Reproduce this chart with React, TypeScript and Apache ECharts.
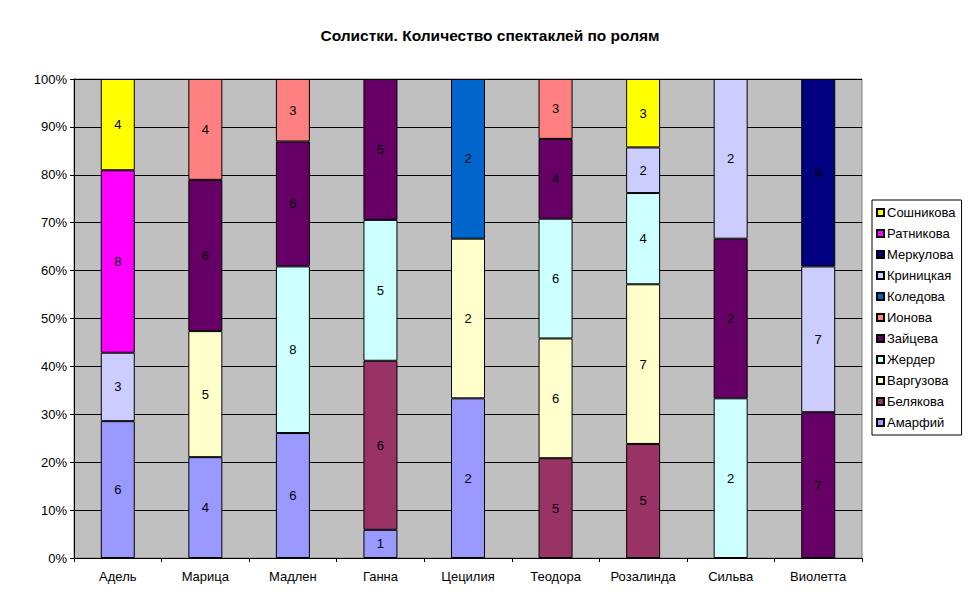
import React, { useEffect, useRef } from "react";
import * as echarts from "echarts";

const categories = ["Адель", "Марица", "Мадлен", "Ганна", "Цецилия", "Теодора", "Розалинда", "Сильва", "Виолетта"];

// raw counts per singer (series) per role (category); 0 = none
const amarfiy =   [6, 4, 6, 1, 2, 0, 0, 0, 0];
const belyakova = [0, 0, 0, 6, 0, 5, 5, 0, 0];
const varguzova = [0, 5, 0, 0, 2, 6, 7, 0, 0];
const zherder =   [0, 0, 8, 5, 0, 6, 4, 2, 0];
const zaytseva =  [0, 6, 6, 5, 0, 4, 0, 2, 7];
const ionova =    [0, 4, 3, 0, 0, 3, 0, 0, 0];
const koledova =  [0, 0, 0, 0, 2, 0, 0, 0, 0];
const krinitskaya=[3, 0, 0, 0, 0, 0, 2, 2, 7];
const merkulova = [0, 0, 0, 0, 0, 0, 0, 0, 9];
const ratnikova = [8, 0, 0, 0, 0, 0, 0, 0, 0];
const soshnikova= [4, 0, 0, 0, 0, 0, 3, 0, 0];

const seriesNames = ["Амарфий", "Белякова", "Варгузова", "Жердер", "Зайцева", "Ионова", "Коледова", "Криницкая", "Меркулова", "Ратникова", "Сошникова"];
const seriesValues = [amarfiy, belyakova, varguzova, zherder, zaytseva, ionova, koledova, krinitskaya, merkulova, ratnikova, soshnikova];
const seriesColors = ["#9999FF", "#993366", "#FFFFCC", "#CCFFFF", "#660066", "#FF8080", "#0066CC", "#CCCCFF", "#000080", "#FF00FF", "#FFFF00"];

const yTicks = [0, 10, 20, 30, 40, 50, 60, 70, 80, 90, 100];

export default function App() {
  const ref = useRef<HTMLDivElement>(null);
  useEffect(() => {
    if (!ref.current) return;
    const chart = echarts.init(ref.current, null, { renderer: "svg" });
    const totals = categories.map((_, i) => seriesValues.reduce((s, arr) => s + arr[i], 0));
    const font = "Arial, 'Liberation Sans', sans-serif";
    const series = seriesNames.map((name, si) => ({
      name,
      type: "bar",
      stack: "all",
      barWidth: 34,
      data: seriesValues[si].map((v, i) => (v > 0 ? { value: (v / totals[i]) * 100, raw: v } : null)),
      itemStyle: { color: seriesColors[si], borderColor: "#000", borderWidth: 1 },
      label: {
        show: true,
        position: "inside",
        color: "#000",
        fontFamily: font,
        fontSize: 13,
        formatter: (p: any) => String(p.data && p.data.raw != null ? p.data.raw : ""),
      },
      emphasis: { disabled: true },
    }));
    chart.setOption({
      animation: false,
      backgroundColor: "#fff",
      title: {
        text: "Солистки. Количество спектаклей по ролям",
        left: 485,
        textAlign: "center",
        top: 22,
        textStyle: { fontFamily: font, fontSize: 15.5, fontWeight: "bold", color: "#000" },
      },
      grid: {
        left: 74,
        top: 79,
        width: 788,
        height: 479,
        show: true,
        backgroundColor: "#C0C0C0",
        borderColor: "#808080",
        borderWidth: 1,
        containLabel: false,
      },
      legend: {
        orient: "vertical",
        left: 872,
        top: 200,
        data: [...seriesNames].reverse(),
        icon: "rect",
        itemWidth: 7,
        itemHeight: 7,
        itemGap: 8,
        padding: [6, 6, 6, 4],
        backgroundColor: "#fff",
        borderColor: "#000",
        borderWidth: 1,
        borderRadius: 0,
        textStyle: { fontFamily: font, fontSize: 13, lineHeight: 13, color: "#000", padding: [0, 0, 0, -2] },
        selectedMode: false,
      },
      xAxis: {
        type: "category",
        data: categories,
        boundaryGap: true,
        axisLine: { lineStyle: { color: "#000", width: 1 } },
        axisTick: { show: true, length: 4, lineStyle: { color: "#000" } },
        axisLabel: { fontFamily: font, fontSize: 13, color: "#000", margin: 12 },
        splitLine: { show: false },
      },
      yAxis: {
        type: "value",
        min: 0,
        max: 100,
        interval: 10,
        axisLine: { show: true, lineStyle: { color: "#000", width: 1 } },
        axisTick: { show: true, length: 4, inside: false, lineStyle: { color: "#000" } },
        axisLabel: {
          fontFamily: font,
          fontSize: 13,
          color: "#000",
          margin: 7,
          formatter: (v: number) => (yTicks.includes(v) ? v + "%" : ""),
        },
        splitLine: { show: true, lineStyle: { color: "#000", width: 1 } },
      },
      series,
    });
    return () => chart.dispose();
  }, []);
  return <div ref={ref} style={{ width: 970, height: 604, position: "absolute", left: 0, top: 0 }} />;
}
